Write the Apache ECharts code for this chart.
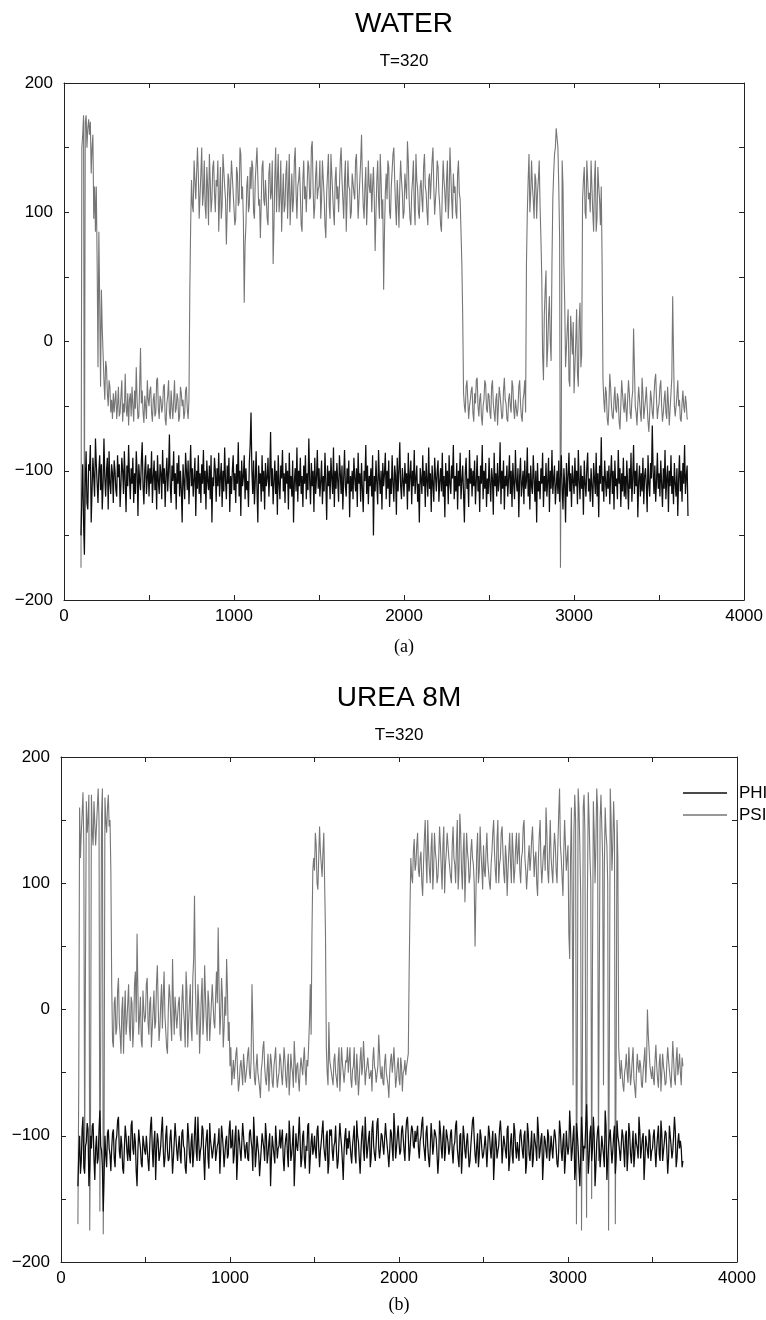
<!DOCTYPE html>
<html>
<head>
<meta charset="utf-8">
<script src="https://cdn.jsdelivr.net/npm/echarts@6/dist/echarts.min.js"></script>
<style>
html,body{margin:0;padding:0;background:#fff;}
#chart{width:766px;height:1320px;}
</style>
</head>
<body>
<div id="chart"></div>
<script>
const T0 = 100;      // first time step shown
const DT = 5;        // sampling step of the arrays below

const xTicks = [0, 1000, 2000, 3000, 4000];
const yTicks = [-200, -100, 0, 100, 200];

// Panel (a) WATER, T=320  (one row = 100 time steps)
const phiWater = [
 -150,-120,-95,-140,-165,-110,-85,-125,-130,-95,-100,-80,-140,-115,-90,-105,-120,-75,-95,-110,
 -125,-100,-88,-115,-95,-130,-110,-75,-105,-120,-100,-90,-130,-85,-110,-118,-95,-102,-125,-92,
 -100,-115,-120,-88,-105,-95,-128,-110,-90,-100,-118,-85,-108,-132,-96,-112,-80,-104,-122,-98,
 -110,-90,-125,-102,-118,-85,-100,-135,-95,-108,-115,-92,-78,-112,-126,-100,-88,-118,-105,-95,
 -120,-98,-110,-85,-125,-105,-92,-115,-100,-130,-88,-108,-118,-95,-102,-122,-84,-110,-98,-128,
 -104,-90,-116,-100,-72,-112,-125,-96,-108,-85,-118,-102,-130,-94,-110,-88,-120,-100,-115,-140,
 -95,-108,-122,-86,-100,-115,-92,-126,-104,-80,-112,-98,-120,-106,-90,-135,-100,-114,-88,-118,
 -102,-125,-95,-110,-84,-118,-100,-130,-92,-108,-115,-96,-122,-88,-140,-105,-112,-90,-100,-124,
 -98,-112,-86,-120,-105,-94,-128,-100,-116,-82,-108,-122,-96,-110,-90,-132,-104,-118,-100,-88,
 -115,-102,-125,-95,-110,-78,-120,-100,-135,-92,-112,-105,-88,-122,-98,-115,-108,-128,-94,-80,
 -55,-100,-118,-92,-126,-108,-85,-114,-140,-96,-110,-102,-124,-88,-116,-100,-130,-94,-112,-106,
 -90,-120,-104,-70,-112,-98,-126,-108,-92,-118,-100,-134,-88,-110,-122,-96,-106,-84,-116,-102,
 -125,-94,-110,-100,-130,-86,-114,-104,-120,-92,-140,-108,-98,-116,-82,-124,-100,-112,-90,-118,
 -104,-128,-96,-110,-88,-122,-102,-115,-75,-108,-126,-94,-112,-100,-132,-90,-118,-106,-84,-114,
 -98,-120,-108,-92,-126,-104,-116,-86,-110,-138,-96,-112,-100,-122,-90,-106,-118,-82,-128,-100,
 -114,-94,-108,-124,-88,-102,-118,-96,-130,-106,-84,-112,-120,-98,-110,-92,-136,-104,-116,-100,
 -122,-90,-106,-116,-98,-128,-86,-110,-102,-124,-94,-114,-132,-100,-108,-80,-118,-96,-126,-104,
 -112,-98,-120,-88,-150,-104,-116,-92,-110,-126,-84,-106,-118,-100,-130,-94,-112,-102,-86,-122,
 -100,-114,-92,-128,-106,-118,-88,-110,-124,-96,-104,-134,-90,-116,-100,-78,-112,-122,-98,-108,
 -120,-94,-110,-102,-130,-86,-116,-104,-92,-126,-100,-112,-84,-118,-106,-96,-124,-110,-140,-98,
 -106,-118,-88,-112,-100,-128,-94,-108,-120,-82,-114,-102,-132,-96,-110,-124,-90,-104,-116,-100,
 -92,-124,-108,-98,-116,-86,-120,-104,-136,-94,-112,-100,-126,-88,-110,-118,-96,-106,-80,-122,
 -104,-116,-94,-130,-100,-112,-86,-122,-108,-96,-118,-140,-102,-90,-114,-106,-128,-84,-110,-98,
 -120,-100,-112,-92,-126,-108,-88,-116,-104,-132,-96,-110,-80,-122,-100,-114,-94,-128,-106,-118,
 -90,-110,-124,-98,-106,-134,-86,-112,-102,-120,-94,-116,-108,-78,-126,-100,-114,-92,-130,-104,
 -112,-96,-120,-106,-88,-118,-100,-128,-94,-110,-122,-84,-108,-116,-98,-136,-104,-90,-120,-110,
 -100,-126,-92,-114,-108,-82,-120,-102,-130,-96,-112,-118,-88,-106,-124,-100,-140,-94,-116,-108,
 -122,-98,-110,-86,-128,-104,-116,-94,-120,-108,-90,-132,-100,-114,-84,-118,-106,-96,-126,-112,
 -100,-118,-92,-124,-106,-88,-114,-130,-98,-110,-140,-94,-120,-104,-86,-116,-102,-128,-96,-108,
 -118,-90,-112,-100,-126,-84,-108,-122,-96,-114,-104,-134,-92,-110,-120,-98,-86,-116,-106,-124,
 -98,-112,-128,-94,-106,-118,-86,-120,-102,-136,-96,-110,-74,-116,-104,-124,-92,-108,-120,-100,
 -114,-96,-126,-104,-88,-118,-100,-130,-92,-112,-106,-122,-84,-110,-98,-128,-102,-116,-90,-120,
 -104,-122,-92,-110,-130,-98,-114,-86,-124,-106,-80,-118,-100,-112,-94,-136,-108,-96,-120,-102,
 -116,-90,-126,-104,-98,-112,-132,-88,-110,-120,-94,-106,-65,-100,-118,-96,-124,-108,-86,-114,
 -102,-120,-92,-110,-128,-98,-114,-84,-122,-106,-96,-132,-100,-112,-88,-118,-104,-126,-94,-110,
 -120,-98,-135,-106,-88,-116,-100,-124,-94,-110,-80,-118,-104,-96,-135
];
const psiWater = [
 -175,150,160,175,-150,170,175,150,165,172,160,170,130,150,160,95,120,85,120,60,
 -20,85,30,-35,40,10,-10,-30,-45,-15,-20,-40,-50,-30,-35,-55,-45,-60,-40,-55,
 -45,-38,-60,-50,-35,-58,-55,-42,-30,-62,-48,-55,-25,-50,-58,-40,-65,-45,-40,-58,
 -35,-50,-62,-38,-52,-20,-45,-60,-58,-35,-5,-48,-38,-55,-63,-42,-50,-60,-30,-45,
 -50,-38,-35,-55,-62,-45,-40,-58,-55,-30,-28,-52,-60,-42,-45,-55,-50,-35,-33,-60,
 -65,-48,-42,-30,-55,-60,-38,-50,-60,-45,-30,-55,-52,-40,-45,-62,-58,-35,-40,-50,
 -45,-60,-55,-38,-35,-52,-60,-45,40,90,125,105,100,140,140,110,110,150,130,95,
 95,130,150,105,115,140,105,95,135,120,90,145,125,100,110,135,140,115,100,125,
 120,140,85,110,135,95,105,145,145,120,110,75,75,130,125,100,100,140,140,115,
 115,90,95,135,130,105,108,150,145,110,120,95,30,75,90,120,128,100,105,135,
 118,140,135,100,95,125,125,150,150,105,110,80,80,135,140,110,105,125,125,95,
 90,130,138,110,115,140,60,90,128,150,100,125,145,100,112,140,85,110,130,100,
 105,130,140,95,118,145,90,110,130,100,110,140,150,115,95,120,125,135,115,90,
 85,125,140,110,120,100,100,140,135,110,112,150,155,120,95,105,128,140,110,118,
 120,140,95,110,140,125,112,90,80,115,130,145,105,95,145,130,115,100,90,125,
 135,110,120,100,100,140,150,125,110,95,125,140,85,110,140,120,118,95,100,130,
 130,115,110,140,145,120,95,110,125,140,160,125,105,95,120,135,90,110,140,120,
 115,130,100,120,135,110,70,100,125,140,110,95,145,125,95,110,40,85,115,130,
 110,140,135,100,95,120,120,145,150,125,105,90,125,110,88,120,140,125,115,95,
 100,130,130,110,155,140,110,95,90,115,125,140,105,90,145,125,118,100,95,120,
 125,110,100,135,145,120,115,100,90,125,130,110,110,140,150,120,98,110,120,140,
 135,115,105,90,85,115,140,125,115,100,125,140,95,110,150,130,110,95,130,115,
 120,100,95,130,140,115,110,85,60,20,-40,-50,-55,-35,-30,-45,-60,-50,-45,-38,
 -35,-55,-62,-40,-48,-30,-28,-50,-58,-45,-40,-58,-65,-50,-45,-30,-33,-52,-55,-40,
 -42,-55,-60,-35,-30,-48,-55,-62,-45,-40,-65,-50,-35,-42,-50,-60,-58,-38,-28,-45,
 -48,-60,-62,-45,-40,-50,-55,-30,-35,-52,-60,-45,-45,-58,-52,-35,-30,-48,-58,-62,
 -45,-40,-30,-55,60,100,125,145,100,115,140,120,110,95,130,125,95,115,125,140,
 105,80,50,-10,-30,20,40,55,-20,-5,20,35,0,-15,60,110,130,145,150,165,
 165,150,120,80,-175,-60,140,120,60,30,-20,-5,10,25,-30,-35,20,5,-10,15,
 -40,-20,0,25,-25,-35,15,30,-20,-10,110,125,135,100,95,140,125,110,115,100,
 140,120,100,85,125,140,85,95,135,120,110,90,120,60,-30,-45,-55,-35,-40,-60,
 -65,-50,-25,-35,-50,-58,-60,-45,-35,-52,-55,-40,-45,-62,-68,-50,-30,-40,-50,-55,
 -40,-52,-62,-45,-30,-40,-55,-60,-45,-38,10,-20,-50,-55,-65,-48,-35,-45,-55,-62,
 -28,-40,-60,-52,-45,-35,-50,-62,-70,-55,-38,-45,-55,-60,-42,-30,-25,-45,-60,-52,
 -48,-35,-30,-50,-62,-55,-45,-38,-55,-60,-35,-48,-65,-52,-40,-28,35,-10,-50,-58,
 -58,-42,-30,-50,-45,-60,-62,-48,-38,-50,-55,-42,-48,-60,-60
];

// Panel (b) UREA 8M, T=320  (one row = 100 time steps)
const phiUrea = [
 -140,-115,-100,-130,-120,-95,-85,-125,-130,-108,-105,-90,-95,-140,-125,-100,-110,-92,-90,-118,
 -135,-110,-100,-122,-118,-95,-80,-108,-112,-125,-160,-130,-100,-115,-125,-98,-95,-110,-115,-128,
 -110,-98,-95,-118,-125,-104,-100,-88,-85,-112,-118,-100,-108,-126,-130,-110,-92,-100,-112,-120,
 -100,-115,-120,-92,-88,-110,-115,-98,-105,-128,-140,-112,-95,-104,-110,-122,-125,-100,-100,-112,
 -115,-100,-100,-120,-128,-108,-92,-85,-110,-125,-105,-96,-135,-112,-98,-104,-120,-115,-108,-95,
 -85,-110,-125,-118,-100,-92,-112,-120,-118,-102,-95,-110,-130,-118,-105,-90,-90,-112,-120,-108,
 -100,-115,-122,-98,-95,-108,-110,-125,-130,-112,-90,-100,-115,-122,-105,-98,-125,-115,-98,-85,
 -112,-120,-85,-105,-120,-112,-108,-92,-95,-118,-135,-110,-102,-95,-118,-126,-90,-104,-110,-118,
 -112,-105,-98,-120,-120,-108,-105,-94,-130,-112,-92,-100,-110,-125,-125,-104,-100,-118,-115,-95,
 -88,-110,-108,-95,-122,-115,-100,-92,-135,-118,-95,-102,-112,-120,-105,-90,-90,-110,-118,-108,
 -105,-118,-120,-98,-95,-104,-110,-128,-85,-100,-125,-115,-100,-108,-115,-132,-132,-110,-98,-104,
 -110,-120,-90,-100,-122,-115,-105,-98,-140,-118,-100,-108,-115,-122,-92,-104,-118,-110,-108,-95,
 -110,-102,-95,-118,-128,-110,-102,-98,-115,-125,-88,-100,-120,-115,-105,-92,-140,-120,-98,-108,
 -112,-100,-85,-104,-125,-118,-100,-96,-118,-126,-108,-112,-92,-90,-130,-118,-105,-98,-115,-110,
 -100,-112,-118,-96,-92,-110,-125,-112,-105,-96,-88,-108,-115,-120,-100,-96,-130,-122,-95,-100,
 -95,-112,-120,-108,-105,-92,-112,-126,-120,-104,-90,-100,-108,-120,-135,-112,-100,-94,-115,-102,
 -110,-96,-95,-115,-122,-108,-100,-92,-115,-122,-88,-100,-105,-118,-130,-112,-98,-92,-112,-120,
 -85,-102,-118,-110,-102,-96,-125,-118,-95,-88,-108,-115,-120,-106,-90,-86,-110,-118,-110,-98,
 -100,-108,-115,-102,-90,-100,-108,-115,-125,-112,-95,-98,-110,-120,-82,-96,-118,-110,-100,-92,
 -105,-115,-112,-96,-92,-102,-112,-120,-98,-88,-85,-100,-120,-112,-100,-92,-95,-108,-110,-96,
 -105,-98,-92,-110,-118,-104,-100,-90,-85,-106,-112,-120,-98,-92,-108,-118,-125,-110,-90,-100,
 -115,-108,-95,-98,-102,-115,-130,-118,-88,-96,-110,-118,-100,-92,-120,-112,-95,-100,-105,-115,
 -110,-98,-95,-112,-122,-108,-105,-92,-88,-110,-118,-125,-100,-98,-130,-115,-92,-100,-112,-118,
 -105,-98,-112,-125,-120,-108,-98,-88,-85,-102,-115,-122,-108,-98,-125,-115,-95,-100,-110,-118,
 -115,-108,-100,-110,-125,-110,-92,-98,-110,-118,-105,-96,-135,-120,-98,-104,-118,-112,-108,-95,
 -88,-100,-122,-110,-100,-106,-112,-118,-95,-92,-128,-120,-105,-98,-115,-122,-90,-96,-110,-118,
 -105,-112,-120,-100,-95,-104,-112,-118,-100,-96,-130,-122,-90,-98,-115,-120,-108,-96,-125,-118,
 -98,-104,-110,-120,-85,-96,-118,-112,-102,-98,-135,-120,-100,-104,-112,-118,-95,-100,-120,-112,
 -100,-110,-118,-104,-95,-100,-110,-122,-125,-112,-88,-96,-112,-120,-105,-98,-130,-118,-96,-108,
 -115,-108,-80,-95,-120,-112,-100,-92,-135,-126,-90,-98,-110,-125,-140,-118,-85,-100,-120,-108,
 -110,-92,-75,-100,-130,-118,-98,-92,-120,-110,-85,-100,-140,-125,-105,-96,-92,-108,-125,-114,
 -100,-108,-115,-125,-80,-92,-135,-120,-108,-100,-95,-110,-122,-112,-100,-92,-130,-118,-88,-100,
 -105,-112,-120,-108,-95,-100,-112,-125,-100,-96,-128,-115,-90,-98,-115,-122,-108,-96,-125,-115,
 -98,-106,-110,-118,-85,-96,-118,-110,-102,-98,-135,-120,-100,-106,-112,-118,-95,-100,-120,-112,
 -110,-100,-95,-112,-125,-110,-100,-92,-115,-120,-88,-98,-120,-112,-105,-96,-98,-112,-130,-118,
 -92,-100,-108,-118,-112,-100,-85,-96,-125,-118,-105,-98,-110,-104,-110,-125,-120
];
const psiUrea = [
 -170,-60,160,120,140,155,172,130,-120,40,165,140,150,170,-175,-80,170,140,130,165,
 165,130,145,160,175,150,-160,-20,155,175,-178,-100,168,150,140,160,170,145,150,110,
 20,-25,-30,5,10,-20,-15,15,25,-10,-20,-35,0,10,-35,-5,15,-20,-10,5,
 20,-15,-25,10,5,-30,-15,20,30,-10,60,15,-20,-5,10,-25,-30,15,0,-10,
 -5,20,25,-10,-20,5,10,-30,-30,0,15,-15,-10,20,35,5,-25,-15,5,20,
 -15,10,30,-5,-5,-30,-35,0,20,10,-10,-25,40,5,-20,10,10,-15,-15,5,
 10,-20,-25,5,20,0,-10,-30,30,15,-30,-10,5,20,-15,-25,25,40,90,20,
 -5,-20,20,5,-35,-15,10,25,-20,-5,35,10,-10,-25,15,5,-25,-10,5,20,
 20,-10,-15,10,30,5,65,20,-20,-5,25,10,-30,-15,10,-5,40,15,-25,-10,
 -45,-30,-60,-50,-40,-55,-55,-35,-30,-50,-65,-58,-45,-40,-50,-60,-35,-45,-58,-52,
 -45,-35,-30,-50,-55,-40,20,-10,-40,-55,-60,-45,-35,-50,-50,-62,-70,-48,-42,-30,
 -25,-45,-55,-60,-48,-35,-65,-50,-35,-42,-58,-62,-45,-38,-30,-50,-62,-55,-50,-35,
 -40,-52,-60,-45,-30,-40,-55,-62,-45,-35,-68,-55,-35,-45,-50,-62,-25,-40,-58,-45,
 -42,-55,-65,-48,-38,-45,-52,-40,-30,-48,-60,-40,-45,-30,-10,20,-20,60,110,120,
 110,140,130,100,95,120,145,125,115,105,125,140,100,60,-30,-50,-60,-10,-40,-45,
 -45,-55,-60,-40,-35,-50,-55,-62,-40,-30,-65,-50,-30,-42,-50,-58,-58,-40,-42,-30,
 -50,-40,-30,-55,-62,-48,-45,-30,-55,-60,-35,-48,-68,-55,-40,-30,-52,-45,-25,-40,
 -60,-50,-45,-38,-38,-55,-55,-48,-65,-40,-30,-45,-48,-58,-58,-45,-20,-35,-50,-55,
 -45,-58,-60,-42,-35,-50,-55,-60,-70,-50,-40,-35,-50,-42,-30,-45,-62,-55,-45,-38,
 -55,-60,-38,-45,-65,-50,-48,-40,-52,-45,-40,-35,30,80,120,105,100,125,135,110,
 115,130,140,110,105,120,125,100,90,115,135,150,120,100,150,125,110,100,128,140,
 95,110,140,125,118,100,105,120,145,130,112,95,130,145,92,115,125,140,140,120,
 120,105,100,130,145,120,115,100,130,150,95,110,155,140,110,95,125,140,85,110,
 140,125,118,100,105,125,135,120,115,100,50,90,125,140,100,110,145,125,112,95,
 130,110,105,125,140,118,118,100,95,115,125,140,150,125,110,100,135,150,100,115,
 120,140,145,125,108,100,130,120,90,110,125,140,115,100,140,125,100,110,128,140,
 115,125,140,110,100,120,125,145,150,120,110,95,95,120,130,110,120,135,145,125,
 105,120,125,100,90,120,138,150,115,100,100,125,130,110,160,140,110,100,125,150,
 120,110,100,125,140,130,110,100,130,155,175,130,120,105,90,125,150,130,110,120,
 130,60,40,120,160,80,-60,140,170,150,-170,-40,175,160,130,90,-175,-50,160,170,
 140,-60,-165,90,172,150,120,100,-150,40,165,140,100,130,175,160,-120,20,150,170,
 170,120,-60,110,160,140,130,100,-175,-20,175,150,110,130,165,140,-170,-40,150,120,
 -30,-45,-55,-40,-40,-60,-65,-50,-45,-35,-50,-58,-30,-45,-60,-52,-40,-30,-55,-62,
 -70,-50,-35,-45,-50,-40,-45,-60,-62,-48,-40,-30,-58,-42,0,-20,-32,-45,-50,-55,
 -45,-55,-60,-40,-28,-45,-55,-62,-42,-35,-65,-50,-35,-45,-50,-60,-58,-42,-30,-40,
 -48,-55,-62,-45,-25,-40,-55,-60,-40,-30,-52,-45,-35,-50,-60,-38,-45
];

// ---- Chart ----
const FONT = '"Liberation Sans", Arial, Helvetica, sans-serif';
const SERIF = '"Liberation Serif", "Times New Roman", serif';
const AXIS_COLOR = '#222';

function toPairs(vals) { return vals.map((v, i) => [T0 + i * DT, v]); }
function fmtY(v) { return yTicks.includes(v) ? (v < 0 ? '\u2212' + Math.abs(v) : String(v)) : ''; }
function fmtX(v) { return xTicks.includes(v) ? String(v) : ''; }

function xAxisPair(gi) {
  const base = {
    gridIndex: gi, type: 'value', min: 0, max: 4000, interval: 500,
    axisLine: { show: true, onZero: false, lineStyle: { color: AXIS_COLOR, width: 1 } },
    axisTick: { show: true, inside: true, length: 5, lineStyle: { color: AXIS_COLOR, width: 1 } },
    splitLine: { show: false }
  };
  return [
    Object.assign({}, base, { position: 'bottom',
      axisLabel: { formatter: fmtX, color: '#000', fontSize: 17, fontFamily: FONT, margin: 8 } }),
    Object.assign({}, base, { position: 'top', axisLabel: { show: false } })
  ];
}
function yAxisPair(gi) {
  const base = {
    gridIndex: gi, type: 'value', min: -200, max: 200, interval: 50,
    axisLine: { show: true, onZero: false, lineStyle: { color: AXIS_COLOR, width: 1 } },
    axisTick: { show: true, inside: true, length: 5, lineStyle: { color: AXIS_COLOR, width: 1 } },
    splitLine: { show: false }
  };
  return [
    Object.assign({}, base, { position: 'left',
      axisLabel: { formatter: fmtY, color: '#000', fontSize: 17, fontFamily: FONT, margin: 11 } }),
    Object.assign({}, base, { position: 'right', axisLabel: { show: false } })
  ];
}
function lineSeries(name, vals, axisIdx, color, width) {
  return {
    name: name, type: 'line', xAxisIndex: axisIdx, yAxisIndex: axisIdx,
    data: toPairs(vals), showSymbol: false, symbol: 'none', silent: true,
    color: color, lineStyle: { color: color, width: width }
  };
}
function txt(text, x, y, font) {
  return { type: 'text', silent: true,
    style: { text: text, x: x, y: y, align: 'center', verticalAlign: 'middle',
             textAlign: 'center', textVerticalAlign: 'middle', font: font, fill: '#000' } };
}

const chart = echarts.init(document.getElementById('chart'), null, { renderer: 'canvas' });
chart.setOption({
  animation: false,
  backgroundColor: '#fff',
  grid: [
    { left: 64, right: 21, top: 83, height: 517 },
    { left: 61, right: 29, top: 757, height: 505 }
  ],
  xAxis: xAxisPair(0).concat(xAxisPair(1)),
  yAxis: yAxisPair(0).concat(yAxisPair(1)),
  legend: {
    data: ['PHI', 'PSI'], orient: 'vertical', left: 683, top: 783, padding: 0,
    icon: 'rect', itemWidth: 44, itemHeight: 1.5, itemGap: 2, selectedMode: false,
    textStyle: { fontSize: 17, fontFamily: FONT, color: '#000', lineHeight: 20, padding: [0, 0, 0, 7] }
  },
  graphic: [
    txt('WATER', 404, 24, '28px ' + FONT),
    txt('T=320', 404, 61, '17px ' + FONT),
    txt('(a)', 404, 647, '18px ' + SERIF),
    txt('UREA 8M', 399, 698, '28px ' + FONT),
    txt('T=320', 399, 735, '17px ' + FONT),
    txt('(b)', 399, 1305, '18px ' + SERIF)
  ],
  series: [
    lineSeries('PSI', psiWater, 0, '#767676', 1.1),
    lineSeries('PHI', phiWater, 0, '#0d0d0d', 1.25),
    lineSeries('PSI', psiUrea, 2, '#767676', 1.1),
    lineSeries('PHI', phiUrea, 2, '#0d0d0d', 1.25)
  ]
});
</script>
</body>
</html>
